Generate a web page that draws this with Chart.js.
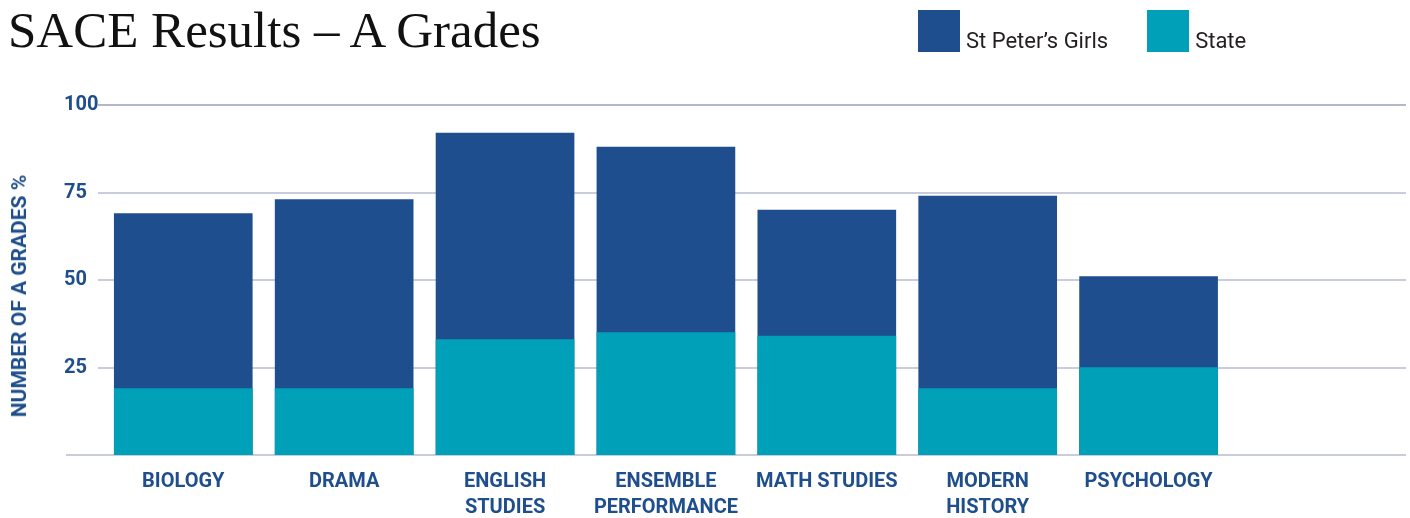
<!DOCTYPE html>
<html>
<head>
<meta charset="utf-8">
<title>SACE Results – A Grades</title>
<script src="https://cdn.jsdelivr.net/npm/chart.js@4.4.1/dist/chart.umd.min.js"></script>
<style>
  html, body { margin: 0; padding: 0; background: #fff; }
  #page { position: relative; width: 1410px; height: 518px; overflow: hidden; }
  #chartBox { position: absolute; left: 0; top: 0; width: 1410px; height: 518px; }
  h1 {
    position: absolute; left: 8px; top: 5px; margin: 0;
    font: 400 51px/50px "Liberation Serif", serif; color: #111; white-space: nowrap;
  }
  #legend {
    position: absolute; left: 918px; top: 10px; display: flex; gap: 39px;
    font: 400 22px/22px Roboto, sans-serif; color: #231f20;
  }
  .item { display: flex; align-items: flex-end; }
  .swatch { width: 42px; height: 42px; margin-right: 6px; }
  #yTitle {
    position: absolute; left: 19px; top: 296px;
    transform: translate(-50%, -50%) rotate(-90deg);
    font: 700 21px Roboto, sans-serif; color: #1f4e8c; white-space: nowrap;
  }
</style>
</head>
<body>
<div id="page">
  <div id="chartBox"><canvas id="gradesChart"></canvas></div>
  <h1>SACE Results – A Grades</h1>
  <div id="legend"></div>
  <div id="yTitle">NUMBER OF A GRADES %</div>
</div>
<script>
const subjects = [
  ['BIOLOGY'],
  ['DRAMA'],
  ['ENGLISH', 'STUDIES'],
  ['ENSEMBLE', 'PERFORMANCE'],
  ['MATH STUDIES'],
  ['MODERN', 'HISTORY'],
  ['PSYCHOLOGY'],
];
const stPetersGirls = [69, 73, 92, 88, 70, 74, 51];
const state = [19, 19, 33, 35, 34, 19, 25];
const yTicks = [25, 50, 75, 100];

const navy = '#1e4e8e';
const teal = '#00a0b8';
const labelColor = '#1f4e8c';
const gridColor = '#c9ccdc';

const toPoints = (values) => values.map((v, i) => ({ x: i, y: v }));

// baseline at 0 runs a bit further left than the other grid lines
const baselinePlugin = {
  id: 'baseline',
  beforeDatasetsDraw(chart) {
    const { ctx, chartArea, scales: { y } } = chart;
    const y0 = Math.round(y.getPixelForValue(0));
    ctx.save();
    ctx.strokeStyle = gridColor;
    ctx.lineWidth = 2;
    ctx.beginPath();
    ctx.moveTo(y.left + 2, y0);
    ctx.lineTo(chartArea.right, y0);
    ctx.stroke();
    ctx.restore();
  },
};

const datasets = [
  {
    label: 'State',
    data: toPoints(state),
    backgroundColor: teal,
    order: 0,
  },
  {
    label: 'St Peter’s Girls',
    data: toPoints(stPetersGirls),
    backgroundColor: navy,
    order: 1,
  },
];

const chart = new Chart(document.getElementById('gradesChart'), {
  type: 'bar',
  data: { datasets },
  options: {
    responsive: true,
    maintainAspectRatio: false,
    animation: false,
    datasets: {
      bar: { grouped: false, barThickness: 138, borderWidth: 0 },
    },
    layout: { padding: { left: 64, right: 4, top: 105, bottom: 0 } },
    plugins: {
      legend: { display: false },
      tooltip: { enabled: false },
    },
    scales: {
      x: {
        type: 'linear',
        offset: false,
        min: -0.53,
        max: 7.6,
        grid: { display: false, drawTicks: false },
        border: { display: false },
        afterBuildTicks: (scale) => {
          scale.ticks = subjects.map((s, i) => ({ value: i }));
        },
        afterFit: (scale) => { scale.height = 63; },
        ticks: {
          autoSkip: false,
          maxRotation: 0,
          padding: 14,
          color: labelColor,
          font: { family: 'Roboto', weight: 'bold', size: 20, lineHeight: 1.3 },
          callback: (value) => subjects[value],
        },
      },
      y: {
        min: 0,
        max: 100,
        afterBuildTicks: (scale) => {
          scale.ticks = yTicks.map((v) => ({ value: v }));
        },
        afterFit: (scale) => { scale.width = 34; },
        grid: {
          color: (ctx) => (ctx.tick && ctx.tick.value === 100 ? '#b3b7cc' : gridColor),
          lineWidth: 2,
          drawTicks: false,
        },
        border: { display: false },
        ticks: {
          crossAlign: 'far',
          color: labelColor,
          font: { family: 'Roboto', weight: 'bold', size: 20 },
        },
      },
    },
  },
  plugins: [baselinePlugin],
});

// legend in HTML so the label can sit on the bottom edge of the swatch
const legend = document.getElementById('legend');
[datasets[1], datasets[0]].forEach((ds) => {
  const item = document.createElement('div');
  item.className = 'item';
  item.innerHTML = `<span class="swatch" style="background:${ds.backgroundColor}"></span><span>${ds.label}</span>`;
  legend.appendChild(item);
});
</script>
</body>
</html>
